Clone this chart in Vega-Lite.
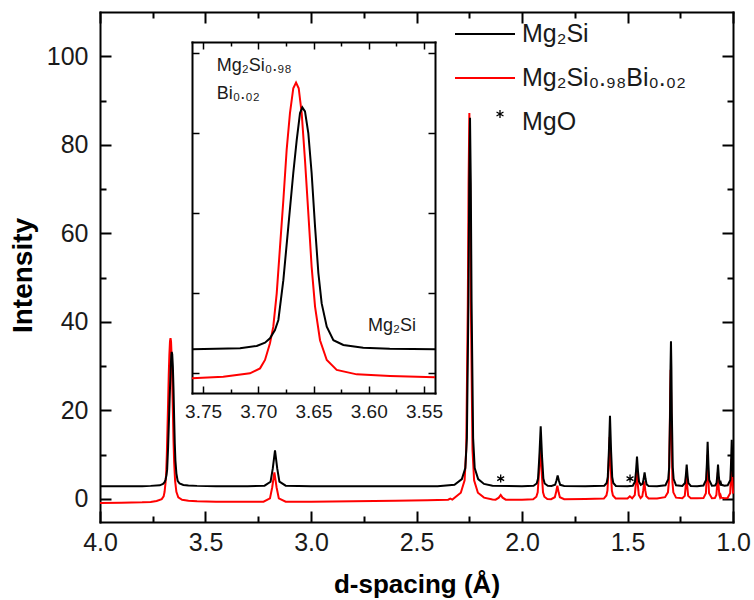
{
  "$schema": "https://vega.github.io/schema/vega-lite/v6.json",
  "width": 633,
  "height": 510,
  "autosize": "none",
  "padding": {"left": 100, "top": 12, "right": 21, "bottom": 78},
  "background": "white",
  "config": {
    "view": {"stroke": null},
    "font": "Liberation Sans",
    "axis": {
      "grid": false,
      "domainColor": "#000000",
      "domainWidth": 2,
      "domainCap": "square",
      "tickColor": "#000000",
      "tickWidth": 2,
      "labelFont": "Liberation Sans",
      "labelColor": "#1a1a1a",
      "labelFlush": false,
      "labelOverlap": false,
      "titleFont": "Liberation Sans",
      "titleColor": "#000000"
    }
  },
  "datasets": {
    "mg2si": [
      {"d": 4.0, "intensity": 2.85}, {"d": 3.9, "intensity": 2.85}, {"d": 3.8, "intensity": 2.9},
      {"d": 3.76, "intensity": 2.96}, {"d": 3.7165, "intensity": 3.08}, {"d": 3.7014, "intensity": 3.38},
      {"d": 3.6939, "intensity": 3.79}, {"d": 3.6894, "intensity": 4.33}, {"d": 3.6849, "intensity": 5.38},
      {"d": 3.6818, "intensity": 6.63}, {"d": 3.6773, "intensity": 11.6}, {"d": 3.6728, "intensity": 18.3},
      {"d": 3.6683, "intensity": 25.0}, {"d": 3.6652, "intensity": 29.1}, {"d": 3.6622, "intensity": 32.5},
      {"d": 3.6601, "intensity": 33.2}, {"d": 3.6577, "intensity": 32.7}, {"d": 3.6547, "intensity": 30.0},
      {"d": 3.6517, "intensity": 25.0}, {"d": 3.6486, "intensity": 18.3}, {"d": 3.6456, "intensity": 12.5},
      {"d": 3.6426, "intensity": 8.7}, {"d": 3.638, "intensity": 5.8}, {"d": 3.632, "intensity": 4.1},
      {"d": 3.623, "intensity": 3.5}, {"d": 3.605, "intensity": 3.17}, {"d": 3.581, "intensity": 3.04},
      {"d": 3.54, "intensity": 2.96}, {"d": 3.45, "intensity": 2.9}, {"d": 3.3, "intensity": 2.88},
      {"d": 3.22, "intensity": 3.0}, {"d": 3.1916, "intensity": 3.9}, {"d": 3.1811, "intensity": 6.9},
      {"d": 3.1706, "intensity": 11.0}, {"d": 3.1601, "intensity": 6.9}, {"d": 3.1496, "intensity": 3.9},
      {"d": 3.12, "intensity": 3.0}, {"d": 3.0, "intensity": 2.88}, {"d": 2.8, "intensity": 2.85},
      {"d": 2.6, "intensity": 2.87}, {"d": 2.4, "intensity": 2.9}, {"d": 2.32, "intensity": 3.2},
      {"d": 2.285, "intensity": 4.5}, {"d": 2.2686, "intensity": 7.0}, {"d": 2.2612, "intensity": 13.7},
      {"d": 2.2538, "intensity": 44.5}, {"d": 2.2501, "intensity": 71.1}, {"d": 2.2464, "intensity": 86.1},
      {"d": 2.2427, "intensity": 71.1}, {"d": 2.239, "intensity": 44.5}, {"d": 2.2316, "intensity": 13.7},
      {"d": 2.2242, "intensity": 7.0}, {"d": 2.2078, "intensity": 4.5}, {"d": 2.18, "intensity": 3.4},
      {"d": 2.14, "intensity": 3.0}, {"d": 2.0, "intensity": 2.9}, {"d": 1.945, "intensity": 3.0},
      {"d": 1.9303, "intensity": 3.5}, {"d": 1.924, "intensity": 4.6}, {"d": 1.9177, "intensity": 9.6},
      {"d": 1.9114, "intensity": 16.4}, {"d": 1.9051, "intensity": 9.6}, {"d": 1.8988, "intensity": 4.6},
      {"d": 1.8925, "intensity": 3.5}, {"d": 1.878, "intensity": 3.0}, {"d": 1.86, "intensity": 2.95},
      {"d": 1.843, "intensity": 3.2}, {"d": 1.837, "intensity": 4.1}, {"d": 1.831, "intensity": 5.3},
      {"d": 1.825, "intensity": 4.1}, {"d": 1.819, "intensity": 3.2}, {"d": 1.8, "intensity": 2.95},
      {"d": 1.7, "intensity": 2.9}, {"d": 1.61, "intensity": 3.0}, {"d": 1.5986, "intensity": 3.6},
      {"d": 1.5934, "intensity": 5.0}, {"d": 1.5882, "intensity": 10.8}, {"d": 1.583, "intensity": 18.8},
      {"d": 1.5778, "intensity": 10.8}, {"d": 1.5726, "intensity": 5.0}, {"d": 1.5674, "intensity": 3.6},
      {"d": 1.555, "intensity": 2.95}, {"d": 1.5, "intensity": 2.9}, {"d": 1.475, "intensity": 3.0},
      {"d": 1.4646, "intensity": 3.9}, {"d": 1.4598, "intensity": 6.2}, {"d": 1.455, "intensity": 9.6},
      {"d": 1.4502, "intensity": 6.2}, {"d": 1.4454, "intensity": 3.9}, {"d": 1.437, "intensity": 3.2},
      {"d": 1.4285, "intensity": 3.4}, {"d": 1.4237, "intensity": 4.5}, {"d": 1.419, "intensity": 6.0},
      {"d": 1.4143, "intensity": 4.5}, {"d": 1.4095, "intensity": 3.3}, {"d": 1.4, "intensity": 2.95},
      {"d": 1.36, "intensity": 2.9}, {"d": 1.32, "intensity": 3.1}, {"d": 1.3068, "intensity": 4.5},
      {"d": 1.3025, "intensity": 7.2}, {"d": 1.2983, "intensity": 19.2}, {"d": 1.2961, "intensity": 29.7},
      {"d": 1.294, "intensity": 35.6}, {"d": 1.2919, "intensity": 29.7}, {"d": 1.2898, "intensity": 19.2},
      {"d": 1.2855, "intensity": 7.2}, {"d": 1.2813, "intensity": 4.5}, {"d": 1.27, "intensity": 3.1},
      {"d": 1.24, "intensity": 2.95}, {"d": 1.2275, "intensity": 3.6}, {"d": 1.2235, "intensity": 5.35},
      {"d": 1.2195, "intensity": 7.75}, {"d": 1.2155, "intensity": 5.35}, {"d": 1.2115, "intensity": 3.6},
      {"d": 1.2, "intensity": 2.95}, {"d": 1.17, "intensity": 2.9}, {"d": 1.14, "intensity": 3.05},
      {"d": 1.1276, "intensity": 4.3}, {"d": 1.1239, "intensity": 7.9}, {"d": 1.1202, "intensity": 12.9},
      {"d": 1.1165, "intensity": 7.9}, {"d": 1.1128, "intensity": 4.3}, {"d": 1.1, "intensity": 3.0},
      {"d": 1.085, "intensity": 3.05}, {"d": 1.078, "intensity": 3.6}, {"d": 1.0745, "intensity": 5.3},
      {"d": 1.071, "intensity": 7.75}, {"d": 1.0675, "intensity": 5.3}, {"d": 1.064, "intensity": 3.7},
      {"d": 1.061, "intensity": 3.4}, {"d": 1.058, "intensity": 3.7}, {"d": 1.055, "intensity": 3.2},
      {"d": 1.04, "intensity": 3.0}, {"d": 1.025, "intensity": 3.1}, {"d": 1.0126, "intensity": 4.3},
      {"d": 1.0093, "intensity": 8.2}, {"d": 1.006, "intensity": 13.4}, {"d": 1.0027, "intensity": 8.2},
      {"d": 1.0, "intensity": 5.0}
    ],
    "mg2sibi": [
      {"d": 4.0, "intensity": -0.9}, {"d": 3.9, "intensity": -0.85}, {"d": 3.8, "intensity": -0.75},
      {"d": 3.76, "intensity": -0.66}, {"d": 3.7317, "intensity": -0.46}, {"d": 3.7075, "intensity": -0.04},
      {"d": 3.6984, "intensity": 0.58}, {"d": 3.6939, "intensity": 1.63}, {"d": 3.6894, "intensity": 3.71},
      {"d": 3.6864, "intensity": 5.79}, {"d": 3.6833, "intensity": 9.96}, {"d": 3.6803, "intensity": 15.8},
      {"d": 3.6773, "intensity": 21.6}, {"d": 3.6743, "intensity": 27.9}, {"d": 3.6713, "intensity": 32.5},
      {"d": 3.6683, "intensity": 35.6}, {"d": 3.6658, "intensity": 36.3}, {"d": 3.6634, "intensity": 35.6},
      {"d": 3.6607, "intensity": 32.5}, {"d": 3.6577, "intensity": 26.6}, {"d": 3.6547, "intensity": 20.0},
      {"d": 3.6517, "intensity": 13.3}, {"d": 3.6486, "intensity": 8.3}, {"d": 3.6441, "intensity": 4.1},
      {"d": 3.638, "intensity": 1.63}, {"d": 3.629, "intensity": 0.38}, {"d": 3.6109, "intensity": -0.17},
      {"d": 3.5807, "intensity": -0.38}, {"d": 3.54, "intensity": -0.54}, {"d": 3.45, "intensity": -0.65},
      {"d": 3.3, "intensity": -0.65}, {"d": 3.225, "intensity": -0.6}, {"d": 3.1945, "intensity": 0.13},
      {"d": 3.184, "intensity": 2.6}, {"d": 3.1735, "intensity": 6.0}, {"d": 3.163, "intensity": 2.6},
      {"d": 3.1525, "intensity": 0.13}, {"d": 3.12, "intensity": -0.6}, {"d": 3.0, "intensity": -0.6},
      {"d": 2.8, "intensity": -0.5}, {"d": 2.6, "intensity": -0.4}, {"d": 2.45, "intensity": -0.3},
      {"d": 2.35, "intensity": -0.15}, {"d": 2.34, "intensity": 0.1}, {"d": 2.33, "intensity": -0.15},
      {"d": 2.29, "intensity": 1.4}, {"d": 2.272, "intensity": 4.2}, {"d": 2.2643, "intensity": 11.2},
      {"d": 2.2569, "intensity": 43.5}, {"d": 2.2532, "intensity": 71.5}, {"d": 2.2495, "intensity": 87.2},
      {"d": 2.2458, "intensity": 71.5}, {"d": 2.2421, "intensity": 43.5}, {"d": 2.2347, "intensity": 11.2},
      {"d": 2.227, "intensity": 4.2}, {"d": 2.209, "intensity": 1.4}, {"d": 2.18, "intensity": 0.3},
      {"d": 2.14, "intensity": -0.1}, {"d": 2.125, "intensity": -0.15}, {"d": 2.11, "intensity": 0.3},
      {"d": 2.101, "intensity": 0.9}, {"d": 2.092, "intensity": 0.3}, {"d": 2.077, "intensity": -0.15},
      {"d": 2.0, "intensity": -0.15}, {"d": 1.947, "intensity": -0.05}, {"d": 1.932, "intensity": 0.5},
      {"d": 1.9256, "intensity": 1.5}, {"d": 1.9193, "intensity": 6.0}, {"d": 1.913, "intensity": 12.0},
      {"d": 1.9067, "intensity": 6.0}, {"d": 1.9004, "intensity": 1.5}, {"d": 1.8941, "intensity": 0.5},
      {"d": 1.88, "intensity": 0.0}, {"d": 1.862, "intensity": -0.05}, {"d": 1.8445, "intensity": 0.4},
      {"d": 1.8385, "intensity": 1.5}, {"d": 1.8325, "intensity": 3.0}, {"d": 1.8265, "intensity": 1.5},
      {"d": 1.8205, "intensity": 0.4}, {"d": 1.8, "intensity": -0.05}, {"d": 1.7, "intensity": 0.0},
      {"d": 1.612, "intensity": 0.1}, {"d": 1.6, "intensity": 0.8}, {"d": 1.595, "intensity": 1.9},
      {"d": 1.5897, "intensity": 7.0}, {"d": 1.5845, "intensity": 14.0}, {"d": 1.5793, "intensity": 7.0},
      {"d": 1.5741, "intensity": 1.9}, {"d": 1.569, "intensity": 0.8}, {"d": 1.556, "intensity": 0.1},
      {"d": 1.5, "intensity": 0.1}, {"d": 1.489, "intensity": 0.6}, {"d": 1.478, "intensity": 0.15},
      {"d": 1.4656, "intensity": 0.9}, {"d": 1.4608, "intensity": 3.3}, {"d": 1.456, "intensity": 6.5},
      {"d": 1.4512, "intensity": 3.3}, {"d": 1.4464, "intensity": 0.9}, {"d": 1.438, "intensity": 0.2},
      {"d": 1.4299, "intensity": 0.6}, {"d": 1.4252, "intensity": 2.0}, {"d": 1.4205, "intensity": 4.0},
      {"d": 1.4158, "intensity": 2.0}, {"d": 1.411, "intensity": 0.6}, {"d": 1.4, "intensity": 0.1},
      {"d": 1.36, "intensity": 0.1}, {"d": 1.322, "intensity": 0.4}, {"d": 1.3083, "intensity": 1.5},
      {"d": 1.304, "intensity": 3.8}, {"d": 1.2998, "intensity": 14.6}, {"d": 1.2976, "intensity": 24.0},
      {"d": 1.2955, "intensity": 29.2}, {"d": 1.2934, "intensity": 24.0}, {"d": 1.2912, "intensity": 14.6},
      {"d": 1.287, "intensity": 3.8}, {"d": 1.2828, "intensity": 1.5}, {"d": 1.27, "intensity": 0.3},
      {"d": 1.24, "intensity": 0.15}, {"d": 1.2285, "intensity": 0.7}, {"d": 1.2245, "intensity": 2.75},
      {"d": 1.2205, "intensity": 5.5}, {"d": 1.2165, "intensity": 2.75}, {"d": 1.2125, "intensity": 0.7},
      {"d": 1.2, "intensity": 0.15}, {"d": 1.17, "intensity": 0.15}, {"d": 1.14, "intensity": 0.2},
      {"d": 1.1284, "intensity": 1.3}, {"d": 1.1247, "intensity": 5.0}, {"d": 1.121, "intensity": 10.0},
      {"d": 1.1173, "intensity": 5.0}, {"d": 1.1136, "intensity": 1.3}, {"d": 1.1, "intensity": 0.15},
      {"d": 1.086, "intensity": 0.2}, {"d": 1.0788, "intensity": 0.9}, {"d": 1.0753, "intensity": 3.0},
      {"d": 1.0718, "intensity": 6.0}, {"d": 1.0683, "intensity": 3.0}, {"d": 1.0648, "intensity": 0.9},
      {"d": 1.0615, "intensity": 0.4}, {"d": 1.0585, "intensity": 0.8}, {"d": 1.0555, "intensity": 0.3},
      {"d": 1.04, "intensity": 0.15}, {"d": 1.026, "intensity": 0.2}, {"d": 1.0134, "intensity": 1.3},
      {"d": 1.0101, "intensity": 4.5}, {"d": 1.0068, "intensity": 9.0}, {"d": 1.0035, "intensity": 4.5},
      {"d": 1.0, "intensity": 1.2}
    ],
    "mgo": [
      {"d": 2.101, "intensity": 4.6},
      {"d": 1.488, "intensity": 4.6}
    ],
    "insetLabels": [
      {"d": 3.7376, "intensity": 37.75, "label": "Mg₂Si₀.₉₈"},
      {"d": 3.7376, "intensity": 34.2, "label": "Bi₀.₀₂"},
      {"d": 3.6007, "intensity": 5.2, "label": "Mg₂Si"}
    ]
  },
  "resolve": {
    "scale": {"x": "independent", "y": "independent"},
    "axis": {"x": "independent", "y": "independent"}
  },
  "layer": [
    {
      "data": {"name": "mg2sibi"},
      "mark": {"type": "line", "strokeWidth": 2},
      "encoding": {
        "x": {
          "field": "d", "type": "quantitative",
          "scale": {"domain": [1, 4], "reverse": true, "nice": false, "zero": false},
          "axis": {
            "orient": "bottom",
            "values": [1, 1.25, 1.5, 1.75, 2, 2.25, 2.5, 2.75, 3, 3.25, 3.5, 3.75, 4],
            "labelExpr": "abs(datum.value*2-round(datum.value*2))<0.001 ? format(datum.value,'.1f') : ''",
            "tickSize": {"condition": {"test": "abs(datum.value*2-round(datum.value*2))<0.001", "value": -11}, "value": -6},
            "labelPadding": 19,
            "labelFontSize": 25,
            "title": "d-spacing (Å)",
            "titleFontSize": 26,
            "titleFontWeight": "bold",
            "titleY": 62,
            "titleBaseline": "middle"
          }
        },
        "y": {
          "field": "intensity", "type": "quantitative",
          "scale": {"domain": [-5.2, 110], "nice": false, "zero": false},
          "axis": {
            "orient": "left",
            "values": [0, 10, 20, 30, 40, 50, 60, 70, 80, 90, 100],
            "labelExpr": "datum.value % 20 === 0 ? datum.label : ''",
            "tickSize": {"condition": {"test": "datum.value % 20 === 0", "value": -11}, "value": -6},
            "labelPadding": 23,
            "labelFontSize": 25,
            "title": "Intensity",
            "titleFontSize": 28,
            "titleFontWeight": "bold",
            "titleX": -77,
            "titleY": 263,
            "titleAngle": -90,
            "titleAlign": "center",
            "titleBaseline": "middle"
          }
        },
        "color": {
          "datum": "Mg₂Si₀.₉₈Bi₀.₀₂", "type": "nominal",
          "scale": {"domain": ["Mg₂Si", "Mg₂Si₀.₉₈Bi₀.₀₂", "MgO"], "range": ["#000000", "#ff0000", "#000000"]},
          "legend": {
            "orient": "none",
            "legendX": 354,
            "legendY": 2,
            "title": null,
            "padding": 0,
            "symbolType": "stroke",
            "symbolSize": 3600,
            "symbolStrokeWidth": 2,
            "clipHeight": 40,
            "rowPadding": 4,
            "labelOffset": 43,
            "labelFontSize": 25,
            "labelFont": "Liberation Sans",
            "labelColor": "#1a1a1a",
            "labelLimit": 400,
            "encode": {
              "symbols": {
                "update": {
                  "shape": {"signal": "datum.value === 'MgO' ? 'M0,-1L0,1M-0.87,-0.5L0.87,0.5M-0.87,0.5L0.87,-0.5' : 'stroke'"},
                  "size": {"signal": "datum.value === 'MgO' ? 64 : 3600"},
                  "x": {"signal": "datum.value === 'MgO' ? 46 : 31"},
                  "y": {"signal": "datum.value === 'MgO' ? 12 : 20"},
                  "strokeWidth": {"signal": "datum.value === 'MgO' ? 1.3 : 2"},
                  "opacity": {"value": 1}
                }
              }
            }
          }
        }
      }
    },
    {
      "data": {"name": "mg2si"},
      "mark": {"type": "line", "strokeWidth": 2},
      "encoding": {
        "x": {
          "field": "d", "type": "quantitative",
          "scale": {"domain": [1, 4], "reverse": true, "nice": false, "zero": false},
          "axis": {
            "orient": "top",
            "values": [1, 1.25, 1.5, 1.75, 2, 2.25, 2.5, 2.75, 3, 3.25, 3.5, 3.75, 4],
            "labels": false,
            "tickSize": {"condition": {"test": "abs(datum.value*2-round(datum.value*2))<0.001", "value": -11}, "value": -6},
            "title": null
          }
        },
        "y": {
          "field": "intensity", "type": "quantitative",
          "scale": {"domain": [-5.2, 110], "nice": false, "zero": false},
          "axis": {
            "orient": "right",
            "values": [0, 10, 20, 30, 40, 50, 60, 70, 80, 90, 100],
            "labels": false,
            "tickSize": {"condition": {"test": "datum.value % 20 === 0", "value": -11}, "value": -6},
            "title": null
          }
        },
        "color": {"datum": "Mg₂Si", "type": "nominal"}
      }
    },
    {
      "data": {"name": "mgo"},
      "mark": {"type": "point", "shape": "M0,-1L0,1M-0.87,-0.5L0.87,0.5M-0.87,0.5L0.87,-0.5", "size": 64, "filled": false, "strokeWidth": 1.3, "opacity": 1},
      "encoding": {
        "x": {
          "field": "d", "type": "quantitative",
          "scale": {"domain": [1, 4], "reverse": true, "nice": false, "zero": false},
          "axis": null
        },
        "y": {
          "field": "intensity", "type": "quantitative",
          "scale": {"domain": [-5.2, 110], "nice": false, "zero": false},
          "axis": null
        },
        "color": {"datum": "MgO", "type": "nominal"}
      }
    },
    {
      "data": {"name": "mg2sibi"},
      "transform": [{"filter": "datum.d >= 3.54 && datum.d <= 3.76"}],
      "mark": {"type": "line", "strokeWidth": 2},
      "encoding": {
        "x": {
          "field": "d", "type": "quantitative",
          "scale": {"domain": [3.54, 3.76], "range": [335, 92], "nice": false, "zero": false},
          "axis": {
            "orient": "bottom",
            "offset": -129,
            "values": [3.55, 3.575, 3.6, 3.625, 3.65, 3.675, 3.7, 3.725, 3.75],
            "labelExpr": "abs(datum.value*20-round(datum.value*20))<0.001 ? format(datum.value,'.2f') : ''",
            "tickSize": {"condition": {"test": "abs(datum.value*20-round(datum.value*20))<0.001", "value": -7}, "value": -4},
            "tickWidth": 1.5,
            "labelPadding": 16,
            "labelFontSize": 19,
            "title": null
          }
        },
        "y": {
          "field": "intensity", "type": "quantitative",
          "scale": {"domain": [-2.5, 41.375], "range": [381, 30], "nice": false, "zero": false},
          "axis": {
            "orient": "left",
            "offset": -92,
            "values": [0, 10, 20, 30, 40],
            "labels": false,
            "tickSize": -7,
            "tickWidth": 1.5,
            "title": null
          }
        },
        "color": {"datum": "Mg₂Si₀.₉₈Bi₀.₀₂", "type": "nominal"}
      }
    },
    {
      "data": {"name": "mg2si"},
      "transform": [{"filter": "datum.d >= 3.54 && datum.d <= 3.76"}],
      "mark": {"type": "line", "strokeWidth": 2},
      "encoding": {
        "x": {
          "field": "d", "type": "quantitative",
          "scale": {"domain": [3.54, 3.76], "range": [335, 92], "nice": false, "zero": false},
          "axis": {
            "orient": "top",
            "offset": -30,
            "values": [3.55, 3.575, 3.6, 3.625, 3.65, 3.675, 3.7, 3.725, 3.75],
            "labels": false,
            "tickSize": {"condition": {"test": "abs(datum.value*20-round(datum.value*20))<0.001", "value": -7}, "value": -4},
            "tickWidth": 1.5,
            "title": null
          }
        },
        "y": {
          "field": "intensity", "type": "quantitative",
          "scale": {"domain": [-2.5, 41.375], "range": [381, 30], "nice": false, "zero": false},
          "axis": {
            "orient": "right",
            "offset": -298,
            "values": [0, 10, 20, 30, 40],
            "labels": false,
            "tickSize": -7,
            "tickWidth": 1.5,
            "title": null
          }
        },
        "color": {"datum": "Mg₂Si", "type": "nominal"}
      }
    },
    {
      "data": {"name": "insetLabels"},
      "mark": {"type": "text", "align": "left", "baseline": "alphabetic", "fontSize": 18, "font": "Liberation Sans", "color": "#1a1a1a"},
      "encoding": {
        "x": {
          "field": "d", "type": "quantitative",
          "scale": {"domain": [3.54, 3.76], "range": [335, 92], "nice": false, "zero": false},
          "axis": null
        },
        "y": {
          "field": "intensity", "type": "quantitative",
          "scale": {"domain": [-2.5, 41.375], "range": [381, 30], "nice": false, "zero": false},
          "axis": null
        },
        "text": {"field": "label"}
      }
    }
  ]
}
